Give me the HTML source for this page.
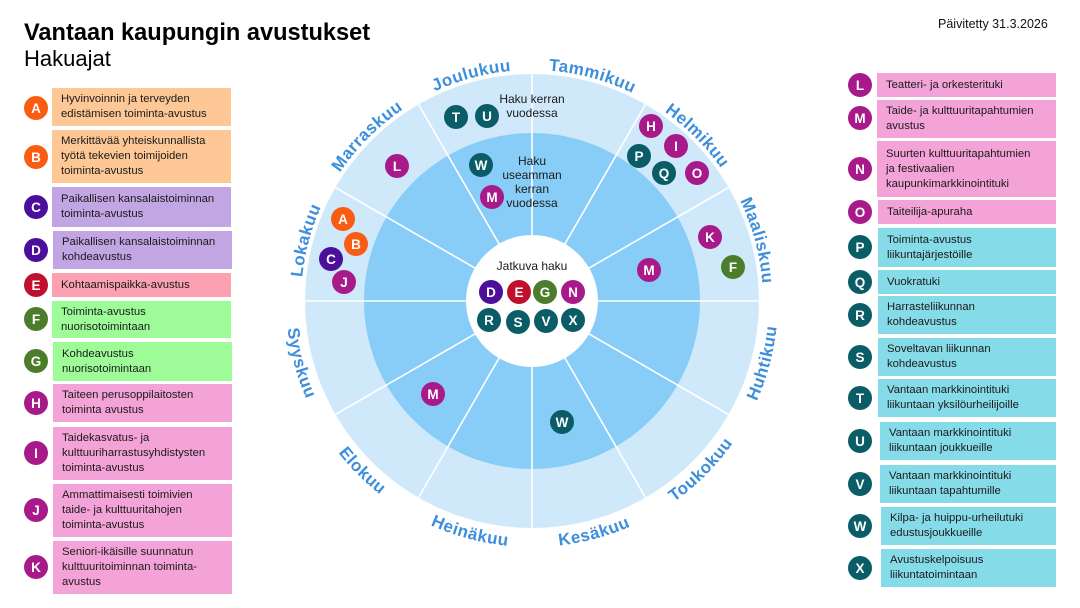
<!DOCTYPE html>
<html><head><meta charset="utf-8"><style>
*{margin:0;padding:0;box-sizing:border-box}
body{width:1080px;height:608px;background:#fff;position:relative;overflow:hidden;font-family:"Liberation Sans",sans-serif;color:#1a1a1a}
.t1{position:absolute;left:24px;top:20px;font-size:23.6px;font-weight:bold;color:#000}
.t2{position:absolute;left:24px;top:46px;font-size:22px;color:#000}
.upd{position:absolute;left:938px;top:17px;font-size:12.5px;color:#111}
.box{position:absolute;display:flex;align-items:center;padding-left:9px;font-size:11.3px;line-height:15px;color:#1a1a1a}
.c{position:absolute;width:24px;height:24px;border-radius:50%;color:#fff;font-weight:bold;font-size:13.5px;display:flex;align-items:center;justify-content:center}
.or{background:#f95c12}.pu{background:#4b0f9c}.cr{background:#c0102e}.gr{background:#4b7d2a}.mg{background:#a81a8a}.te{background:#0a5d66}
.bo{background:#fdc896}.bp{background:#c2a5e3}.be{background:#fca1b1}.bg{background:#9dfc98}.bk{background:#f4a3d9}.bc{background:#86dbe8}
</style></head><body>
<div class="t1">Vantaan kaupungin avustukset</div>
<div class="t2">Hakuajat</div>
<div class="upd">Päivitetty 31.3.2026</div>

<div class="c or" style="left:24px;top:96px">A</div><div class="box bo" style="left:52px;top:88px;width:179px;height:38px">Hyvinvoinnin ja terveyden<br>edistämisen toiminta-avustus</div>
<div class="c or" style="left:24px;top:145px">B</div><div class="box bo" style="left:52px;top:130px;width:179px;height:53px">Merkittävää yhteiskunnallista<br>työtä tekevien toimijoiden<br>toiminta-avustus</div>
<div class="c pu" style="left:24px;top:195px">C</div><div class="box bp" style="left:52px;top:187px;width:179px;height:40px">Paikallisen kansalaistoiminnan<br>toiminta-avustus</div>
<div class="c pu" style="left:24px;top:238px">D</div><div class="box bp" style="left:53px;top:231px;width:179px;height:38px">Paikallisen kansalaistoiminnan<br>kohdeavustus</div>
<div class="c cr" style="left:24px;top:273px">E</div><div class="box be" style="left:52px;top:273px;width:179px;height:24px">Kohtaamispaikka-avustus</div>
<div class="c gr" style="left:24px;top:307px">F</div><div class="box bg" style="left:52px;top:301px;width:179px;height:37px">Toiminta-avustus<br>nuorisotoimintaan</div>
<div class="c gr" style="left:24px;top:349px">G</div><div class="box bg" style="left:53px;top:342px;width:179px;height:39px">Kohdeavustus<br>nuorisotoimintaan</div>
<div class="c mg" style="left:24px;top:391px">H</div><div class="box bk" style="left:53px;top:384px;width:179px;height:38px">Taiteen perusoppilaitosten<br>toiminta avustus</div>
<div class="c mg" style="left:24px;top:441px">I</div><div class="box bk" style="left:53px;top:427px;width:179px;height:53px">Taidekasvatus- ja<br>kulttuuriharrastusyhdistysten<br>toiminta-avustus</div>
<div class="c mg" style="left:24px;top:498px">J</div><div class="box bk" style="left:53px;top:484px;width:179px;height:53px">Ammattimaisesti toimivien<br>taide- ja kulttuuritahojen<br>toiminta-avustus</div>
<div class="c mg" style="left:24px;top:555px">K</div><div class="box bk" style="left:53px;top:541px;width:179px;height:53px">Seniori-ikäisille suunnatun<br>kulttuuritoiminnan toiminta-<br>avustus</div>

<div class="c mg" style="left:848px;top:73px">L</div><div class="box bk" style="left:877px;top:73px;width:179px;height:24px">Teatteri- ja orkesterituki</div>
<div class="c mg" style="left:848px;top:106px">M</div><div class="box bk" style="left:877px;top:100px;width:179px;height:38px">Taide- ja kulttuuritapahtumien<br>avustus</div>
<div class="c mg" style="left:848px;top:157px">N</div><div class="box bk" style="left:877px;top:141px;width:179px;height:56px">Suurten kulttuuritapahtumien<br>ja festivaalien<br>kaupunkimarkkinointituki</div>
<div class="c mg" style="left:848px;top:200px">O</div><div class="box bk" style="left:878px;top:200px;width:178px;height:24px">Taiteilija-apuraha</div>
<div class="c te" style="left:848px;top:235px">P</div><div class="box bc" style="left:878px;top:228px;width:178px;height:39px">Toiminta-avustus<br>liikuntajärjestöille</div>
<div class="c te" style="left:848px;top:270px">Q</div><div class="box bc" style="left:878px;top:270px;width:178px;height:24px">Vuokratuki</div>
<div class="c te" style="left:848px;top:303px">R</div><div class="box bc" style="left:878px;top:296px;width:178px;height:38px">Harrasteliikunnan<br>kohdeavustus</div>
<div class="c te" style="left:848px;top:345px">S</div><div class="box bc" style="left:878px;top:338px;width:178px;height:38px">Soveltavan liikunnan<br>kohdeavustus</div>
<div class="c te" style="left:848px;top:386px">T</div><div class="box bc" style="left:878px;top:379px;width:178px;height:38px">Vantaan markkinointituki<br>liikuntaan yksilöurheilijoille</div>
<div class="c te" style="left:848px;top:429px">U</div><div class="box bc" style="left:880px;top:422px;width:176px;height:38px">Vantaan markkinointituki<br>liikuntaan joukkueille</div>
<div class="c te" style="left:848px;top:472px">V</div><div class="box bc" style="left:880px;top:465px;width:176px;height:38px">Vantaan markkinointituki<br>liikuntaan tapahtumille</div>
<div class="c te" style="left:848px;top:514px">W</div><div class="box bc" style="left:881px;top:507px;width:175px;height:38px">Kilpa- ja huippu-urheilutuki<br>edustusjoukkueille</div>
<div class="c te" style="left:848px;top:556px">X</div><div class="box bc" style="left:881px;top:549px;width:175px;height:38px">Avustuskelpoisuus<br>liikuntatoimintaan</div>

<svg style="position:absolute;left:0;top:0" width="1080" height="608" viewBox="0 0 1080 608">
<defs>
<path id="ptop" d="M532 532 A231 231 0 1 1 532 70 A231 231 0 1 1 532 532"/>
<path id="pbot" d="M532 55 A246 246 0 1 0 532 547 A246 246 0 1 0 532 55"/>
</defs>
<circle cx="532" cy="301" r="227" fill="#cfe9fb"/>
<circle cx="532" cy="301" r="168" fill="#87cdf7"/>
<g stroke="#fff" stroke-width="1.6">
<line x1="532" y1="74" x2="532" y2="528"/>
<line x1="305" y1="301" x2="759" y2="301"/>
<line x1="645.5" y1="104.4" x2="418.5" y2="497.6"/>
<line x1="728.6" y1="187.5" x2="335.4" y2="414.5"/>
<line x1="418.5" y1="104.4" x2="645.5" y2="497.6"/>
<line x1="335.4" y1="187.5" x2="728.6" y2="414.5"/>
</g>
<circle cx="532" cy="301" r="66" fill="#fff"/>
<g font-family="Liberation Sans, sans-serif" font-weight="bold" font-size="17" fill="#3d8fdc" letter-spacing="0.5" text-anchor="middle">
<text><textPath href="#ptop" startOffset="45.83%">Joulukuu</textPath></text>
<text><textPath href="#ptop" startOffset="54.17%">Tammikuu</textPath></text>
<text><textPath href="#ptop" startOffset="62.5%">Helmikuu</textPath></text>
<text><textPath href="#ptop" startOffset="70.83%">Maaliskuu</textPath></text>
<text><textPath href="#ptop" startOffset="29.17%">Lokakuu</textPath></text>
<text><textPath href="#ptop" startOffset="37.5%">Marraskuu</textPath></text>
<text><textPath href="#pbot" startOffset="29.17%">Syyskuu</textPath></text>
<text><textPath href="#pbot" startOffset="37.5%">Elokuu</textPath></text>
<text><textPath href="#pbot" startOffset="45.83%">Heinäkuu</textPath></text>
<text><textPath href="#pbot" startOffset="54.17%">Kesäkuu</textPath></text>
<text><textPath href="#pbot" startOffset="62.5%">Toukokuu</textPath></text>
<text><textPath href="#pbot" startOffset="70.83%">Huhtikuu</textPath></text>
</g>
<g font-family="Liberation Sans, sans-serif" font-size="12" fill="#1a1a1a" text-anchor="middle">
<text x="532" y="103">Haku kerran</text>
<text x="532" y="117">vuodessa</text>
<text x="532" y="165">Haku</text>
<text x="532" y="179">useamman</text>
<text x="532" y="193">kerran</text>
<text x="532" y="207">vuodessa</text>
<text x="532" y="270">Jatkuva haku</text>
</g>
<g font-family="Liberation Sans, sans-serif" font-weight="bold" font-size="13.5" fill="#fff" text-anchor="middle">
<g fill="#f95c12"><circle cx="343" cy="219" r="12"/><circle cx="356" cy="244" r="12"/></g>
<g fill="#4b0f9c"><circle cx="331" cy="259" r="12"/><circle cx="491" cy="292" r="12"/></g>
<g fill="#c0102e"><circle cx="519" cy="292" r="12"/></g>
<g fill="#4b7d2a"><circle cx="545" cy="292" r="12"/><circle cx="733" cy="267" r="12"/></g>
<g fill="#a81a8a"><circle cx="344" cy="282" r="12"/><circle cx="397" cy="166" r="12"/><circle cx="492" cy="197" r="12"/><circle cx="651" cy="126" r="12"/><circle cx="676" cy="146" r="12"/><circle cx="697" cy="173" r="12"/><circle cx="710" cy="237" r="12"/><circle cx="649" cy="270" r="12"/><circle cx="573" cy="292" r="12"/><circle cx="433" cy="394" r="12"/></g>
<g fill="#0a5d66"><circle cx="456" cy="117" r="12"/><circle cx="487" cy="116" r="12"/><circle cx="481" cy="165" r="12"/><circle cx="639" cy="156" r="12"/><circle cx="664" cy="173" r="12"/><circle cx="489" cy="320" r="12"/><circle cx="518" cy="322" r="12"/><circle cx="546" cy="321" r="12"/><circle cx="573" cy="320" r="12"/><circle cx="562" cy="422" r="12"/></g>
<text x="343" y="224">A</text><text x="356" y="249">B</text><text x="331" y="264">C</text><text x="344" y="287">J</text>
<text x="397" y="171">L</text><text x="456" y="122">T</text><text x="487" y="121">U</text>
<text x="481" y="170">W</text><text x="492" y="202">M</text>
<text x="651" y="131">H</text><text x="676" y="151">I</text><text x="639" y="161">P</text><text x="664" y="178">Q</text><text x="697" y="178">O</text>
<text x="710" y="242">K</text><text x="733" y="272">F</text><text x="649" y="275">M</text>
<text x="491" y="297">D</text><text x="519" y="297">E</text><text x="545" y="297">G</text><text x="573" y="297">N</text>
<text x="489" y="325">R</text><text x="518" y="327">S</text><text x="546" y="326">V</text><text x="573" y="325">X</text>
<text x="433" y="399">M</text><text x="562" y="427">W</text>
</g>
</svg>
</body></html>
